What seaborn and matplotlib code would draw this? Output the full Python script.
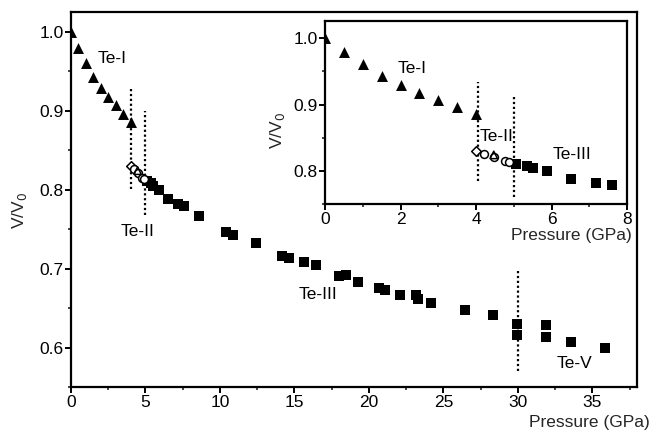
import matplotlib
matplotlib.use("Agg")
import matplotlib.pyplot as plt
import seaborn as sns
import pandas as pd
from matplotlib.ticker import MultipleLocator

sns.set_theme(style="ticks")
plt.rcParams['font.family'] = ['Liberation Sans', 'DejaVu Sans']

# Te-I (filled triangles)
te1_p = [0.0, 0.5, 1.0, 1.5, 2.0, 2.5, 3.0, 3.5, 4.0]
te1_v = [1.0, 0.979, 0.961, 0.943, 0.929, 0.917, 0.907, 0.896, 0.886]
# Te-II (open symbols)
te2_diamond_p = [4.01]
te2_diamond_v = [0.830]
te2_circle_p = [4.2, 4.47, 4.78, 4.88]
te2_circle_v = [0.826, 0.821, 0.815, 0.813]
te2_tri_p = [4.47]
te2_tri_v = [0.824]
# Te-III / Te-V (filled squares)
sq_p = [5.07, 5.34, 5.5, 5.88, 6.51, 7.18, 7.61, 8.59, 10.38, 10.89, 12.4, 14.14,
        14.61, 15.64, 16.42, 17.99, 18.44, 19.28, 20.69, 21.07, 22.08, 23.15, 23.27,
        24.16, 26.46, 28.34, 29.95, 29.95, 31.88, 31.88, 33.54, 35.86]
sq_v = [0.811, 0.808, 0.804, 0.800, 0.788, 0.782, 0.779, 0.767, 0.746, 0.743, 0.732,
        0.716, 0.714, 0.708, 0.704, 0.690, 0.692, 0.683, 0.676, 0.673, 0.666, 0.666,
        0.661, 0.657, 0.647, 0.641, 0.630, 0.616, 0.628, 0.613, 0.607, 0.599]

# transition lines: (pressure, ymin, ymax)
main_lines = [(4.05, 0.801, 0.928), (4.97, 0.768, 0.899), (30.0, 0.570, 0.697)]
inset_lines = [(4.04, 0.784, 0.934), (5.0, 0.761, 0.912)]

df_tri = pd.DataFrame({"P": te1_p, "V": te1_v})
df_dia = pd.DataFrame({"P": te2_diamond_p, "V": te2_diamond_v})
df_cir = pd.DataFrame({"P": te2_circle_p, "V": te2_circle_v})
df_otr = pd.DataFrame({"P": te2_tri_p, "V": te2_tri_v})
df_sq = pd.DataFrame({"P": sq_p, "V": sq_v})

fig = plt.figure(figsize=(6.54, 4.33), dpi=100)
ax = fig.add_axes([0.1086, 0.1062, 0.8654, 0.8661])
ins = fig.add_axes([0.497, 0.5289, 0.4617, 0.4226])


def draw(a, ms_tri, ms_sq, ms_open, lines):
    sns.scatterplot(data=df_tri, x="P", y="V", marker="^", s=ms_tri, color="black",
                    edgecolor="black", linewidth=0, ax=a, zorder=3)
    sns.scatterplot(data=df_sq, x="P", y="V", marker="s", s=ms_sq, color="black",
                    edgecolor="black", linewidth=0, ax=a, zorder=3)
    sns.scatterplot(data=df_dia, x="P", y="V", marker="D", s=ms_open * 0.75,
                    facecolor="white", edgecolor="black", linewidth=1.1, ax=a, zorder=4)
    sns.scatterplot(data=df_cir, x="P", y="V", marker="o", s=ms_open,
                    facecolor="white", edgecolor="black", linewidth=1.1, ax=a, zorder=4)
    sns.scatterplot(data=df_otr, x="P", y="V", marker="^", s=ms_open * 0.9,
                    facecolor="none", edgecolor="black", linewidth=1.1, ax=a, zorder=4)
    for (p, y0, y1) in lines:
        a.plot([p, p], [y0, y1], color="black", linestyle=(0, (1, 1.2)),
               linewidth=1.6, zorder=2)


draw(ax, 62, 62, 32, main_lines)
draw(ins, 62, 62, 32, inset_lines)

for a in (ax, ins):
    for s in a.spines.values():
        s.set_linewidth(1.6)
        s.set_color("black")
    a.tick_params(which="major", direction="out", length=4, width=1.4,
                  labelsize=12.5, colors="black", pad=1.5)
    a.tick_params(which="minor", direction="out", length=2.5, width=1.2)
    a.set_facecolor("white")

ax.set_xlim(0, 38)
ax.set_ylim(0.55, 1.025)
ax.xaxis.set_major_locator(MultipleLocator(5))
ax.xaxis.set_minor_locator(MultipleLocator(2.5))
ax.set_yticks([0.6, 0.7, 0.8, 0.9, 1.0])
ax.set_yticklabels(["0.6", "0.7", "0.8", "0.9", "1.0"])
ax.yaxis.set_minor_locator(MultipleLocator(0.05))
ax.set_xlabel("Pressure (GPa)", fontsize=12.5, ha="right")
ax.xaxis.set_label_coords(1.022, -0.075)
ax.set_ylabel("V/V$_0$", fontsize=12.5)
ax.yaxis.set_label_coords(-0.075, 0.47)

ins.set_xlim(0, 8)
ins.set_ylim(0.75, 1.026)
ins.xaxis.set_major_locator(MultipleLocator(2))
ins.xaxis.set_minor_locator(MultipleLocator(1))
ins.set_yticks([0.8, 0.9, 1.0])
ins.set_yticklabels(["0.8", "0.9", "1.0"])
ins.yaxis.set_minor_locator(MultipleLocator(0.05))
ins.set_xlabel("Pressure (GPa)", fontsize=12.5, ha="right")
ins.xaxis.set_label_coords(1.015, -0.13)
ins.set_ylabel("V/V$_0$", fontsize=12.5)
ins.yaxis.set_label_coords(-0.125, 0.40)

tk = dict(fontsize=12.5, color="black")
ax.text(1.8, 0.966, "Te-I", ha="left", va="center", **tk)
ax.text(4.5, 0.747, "Te-II", ha="center", va="center", **tk)
ax.text(16.6, 0.667, "Te-III", ha="center", va="center", **tk)
ax.text(33.8, 0.580, "Te-V", ha="center", va="center", **tk)

ins.text(2.32, 0.955, "Te-I", ha="center", va="center", **tk)
ins.text(4.1, 0.852, "Te-II", ha="left", va="center", **tk)
ins.text(6.55, 0.824, "Te-III", ha="center", va="center", **tk)

fig.savefig("out.png", dpi=100)
